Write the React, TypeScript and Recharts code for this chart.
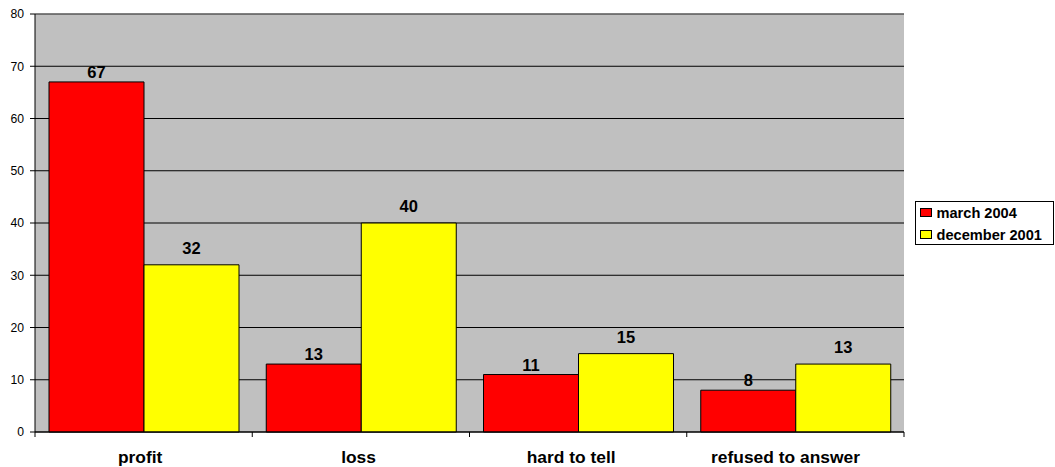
import React from "react";
import {
  BarChart,
  Bar,
  XAxis,
  YAxis,
  CartesianGrid,
  LabelList,
  ReferenceLine,
} from "recharts";

const categories = ["profit", "loss", "hard to tell", "refused to answer"];
const march2004 = [67, 13, 11, 8];
const december2001 = [32, 40, 15, 13];
const yTicks = [0, 10, 20, 30, 40, 50, 60, 70, 80];

const data = categories.map((name, i) => ({
  name,
  march2004: march2004[i],
  december2001: december2001[i],
}));

const WIDTH = 1055;
const HEIGHT = 467;
const MARGIN = { top: 14, right: 151, bottom: 0, left: 0 };
const Y_AXIS_WIDTH = 35;
const BAND =
  (WIDTH - MARGIN.left - MARGIN.right - Y_AXIS_WIDTH) / categories.length;
const FONT = "'Liberation Sans', Arial, sans-serif";

// Category label plus the tick marks sitting on the band boundaries
const CategoryTick = (props: any) => {
  const { x, y, payload, index } = props;
  const label = String(payload.value);
  // longer labels sit slightly left of the band centre
  const nudge = -0.58 * label.length;
  return (
    <g>
      {index === 0 && (
        <line x1={x - BAND / 2} x2={x - BAND / 2} y1={y} y2={y + 5} stroke="#000" />
      )}
      <line x1={x + BAND / 2} x2={x + BAND / 2} y1={y} y2={y + 5} stroke="#000" />
      <text
        x={x + nudge}
        y={y + 31}
        textAnchor="middle"
        fontFamily={FONT}
        fontSize={17.4}
        fontWeight="bold"
        fill="#000"
      >
        {label}
      </text>
    </g>
  );
};

const legendItems = [
  { label: "march 2004", color: "#FF0000" },
  { label: "december 2001", color: "#FFFF00" },
];

const LegendBox = () => (
  <svg
    width={140}
    height={45}
    style={{ position: "absolute", left: 915, top: 201, overflow: "visible" }}
  >
    <rect x={0.5} y={0.5} width={138} height={43} fill="#fff" stroke="#000" />
    {legendItems.map((it, i) => (
      <g key={it.label} transform={`translate(0, ${i * 22})`}>
        <rect x={5.5} y={7.5} width={11} height={8} fill={it.color} stroke="#000" />
        <text
          x={21.5}
          y={17}
          fontFamily={FONT}
          fontSize={14.6}
          fontWeight="bold"
          fill="#000"
        >
          {it.label}
        </text>
      </g>
    ))}
  </svg>
);

const labelStyle = {
  fill: "#000",
  fontSize: 16.5,
  fontWeight: "bold",
  fontFamily: FONT,
};

export default function App() {
  return (
    <div
      style={{
        position: "absolute",
        left: 0,
        top: 0,
        width: WIDTH,
        height: HEIGHT,
        background: "#fff",
      }}
    >
      <BarChart
        width={WIDTH}
        height={HEIGHT}
        data={data}
        margin={MARGIN}
        barCategoryGap={14}
        barGap={0}
      >
        <CartesianGrid
          vertical={false}
          stroke="#000"
          strokeWidth={1}
          fill="#C0C0C0"
          fillOpacity={1}
        />
        <XAxis
          dataKey="name"
          axisLine={{ stroke: "#000" }}
          tickLine={false}
          tickSize={0}
          tickMargin={0}
          height={35}
          interval={0}
          tick={<CategoryTick />}
        />
        <YAxis
          width={Y_AXIS_WIDTH}
          domain={[0, 80]}
          ticks={yTicks}
          interval={0}
          axisLine={{ stroke: "#000" }}
          tickLine={{ stroke: "#000" }}
          tickSize={5}
          tickMargin={6}
          tick={{ fill: "#000", fontSize: 12.2, fontFamily: FONT }}
        />
        <YAxis
          yAxisId="frame"
          orientation="right"
          width={0}
          domain={[0, 80]}
          tick={false}
          tickLine={false}
          axisLine={{ stroke: "#808080" }}
        />
        <ReferenceLine y={80} stroke="#808080" />
        <Bar
          dataKey="march2004"
          name="march 2004"
          fill="#FF0000"
          stroke="#000"
          strokeWidth={1}
          isAnimationActive={false}
        >
          <LabelList dataKey="march2004" position="top" offset={4} {...labelStyle} />
        </Bar>
        <Bar
          dataKey="december2001"
          name="december 2001"
          fill="#FFFF00"
          stroke="#000"
          strokeWidth={1}
          isAnimationActive={false}
        >
          <LabelList dataKey="december2001" position="top" offset={11} {...labelStyle} />
        </Bar>
      </BarChart>
      <LegendBox />
    </div>
  );
}
